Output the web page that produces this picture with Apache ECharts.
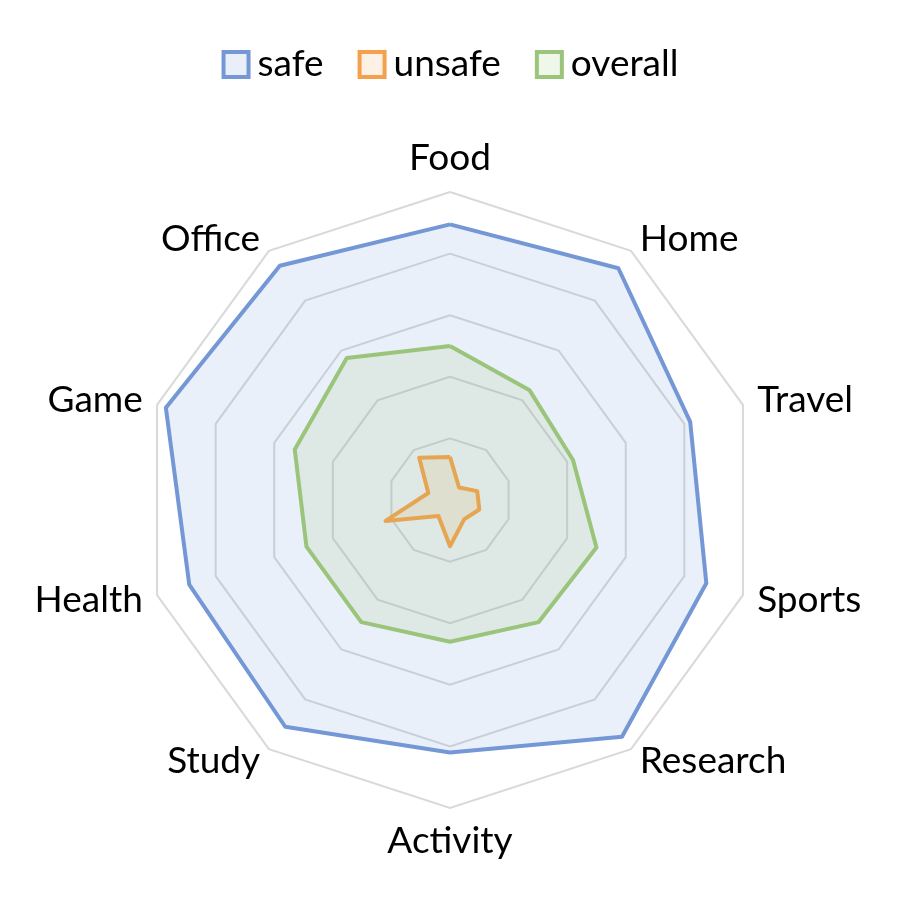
<!DOCTYPE html>
<html>
<head>
<meta charset="utf-8">
<script src="https://cdn.jsdelivr.net/npm/echarts@6/dist/echarts.min.js"></script>
<style>html,body{margin:0;padding:0;background:#fff;}#chart{width:900px;height:900px;}</style>
</head>
<body>
<div id="chart"></div>
<script>
// Categories listed clockwise starting from the top
const categories = ['Food', 'Home', 'Travel', 'Sports', 'Research', 'Activity', 'Study', 'Health', 'Game', 'Office'];
const safeValues    = [89.5, 93, 82, 87.5, 95, 82, 91, 89, 97, 94];
const unsafeValues  = [14, 5, 9.3, 10, 7.8, 15, 6.4, 22, 7.4, 17];
const overallValues = [50, 44, 42, 50, 49, 46, 49, 49, 53, 57];
const seriesNames = ['safe', 'unsafe', 'overall'];
const maxValue = 100;

// ECharts radar lays indicators out counter-clockwise; reorder so they run clockwise.
const order = [0].concat(categories.map((_, i) => i).slice(1).reverse());
const reorder = arr => order.map(i => arr[i]);

const lineColors = ['#7597d6', '#f4a04c', '#9ac57a'];
const iconFills = ['#e9eff8', '#fdf1e6', '#eff6ea'];
const valueSets = [safeValues, unsafeValues, overallValues];

const chart = echarts.init(document.getElementById('chart'));
chart.setOption({
  animation: false,
  backgroundColor: '#ffffff',
  textStyle: { fontFamily: 'Lato' },
  legend: {
    top: 41,
    left: 'center',
    itemWidth: 25,
    itemHeight: 25,
    itemGap: 34,
    icon: 'rect',
    textStyle: { fontSize: 37, color: '#000', fontFamily: 'Lato', padding: [0, 0, 0, 4] },
    data: seriesNames.map((n, i) => ({
      name: n,
      itemStyle: { color: iconFills[i], borderColor: lineColors[i], borderWidth: 4 }
    }))
  },
  radar: {
    center: [450, 500],
    radius: 308,
    startAngle: 90,
    shape: 'polygon',
    splitNumber: 5,
    nameGap: 15,
    axisName: { color: '#000', fontSize: 37, fontFamily: 'Lato' },
    indicator: reorder(categories).map(n => ({ name: n, max: maxValue, min: 0 })),
    splitLine: { lineStyle: { color: '#d9d9d9', width: 2 } },
    splitArea: { show: false },
    axisLine: { show: false },
    axisTick: { show: false },
    axisLabel: { show: false }
  },
  series: [{
    type: 'radar',
    symbol: 'none',
    data: seriesNames.map((n, i) => ({
      name: n,
      value: reorder(valueSets[i]),
      lineStyle: { color: lineColors[i], width: 4 },
      itemStyle: { color: lineColors[i] },
      areaStyle: { color: lineColors[i], opacity: 0.15 }
    }))
  }]
});
</script>
</body>
</html>
